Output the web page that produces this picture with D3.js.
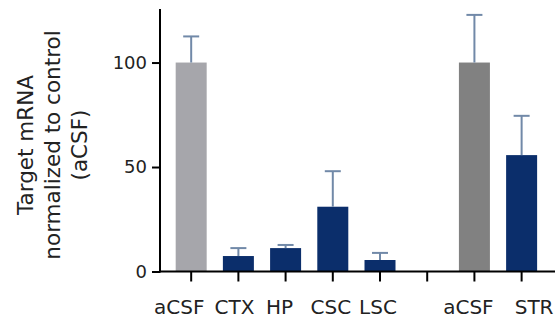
<!DOCTYPE html>
<html><head><meta charset="utf-8">
<script src="https://cdn.jsdelivr.net/npm/d3@7"></script>
<style>body{margin:0;background:#fff}svg{display:block}text{font-family:"DejaVu Sans",Verdana,sans-serif}</style>
</head><body><svg id="c" width="555" height="320"></svg>
<script>
const categories = ["aCSF","CTX","HP","CSC","LSC","","aCSF","STR"];
const means      = [100, 7.4, 11.2, 31, 5.5, null, 100, 55.7];
const errUpper   = [112.5, 11.2, 12.7, 48, 8.9, null, 122.8, 74.5];
const barGroups  = ["ctrl1","treat","treat","treat","treat",null,"ctrl2","treat"];
const yTicks = [0, 50, 100];
const yTitle = ["Target mRNA","normalized to control","(aCSF)"];

// layout / style
const colors = {ctrl1:"#a6a6ab", ctrl2:"#818181", treat:"#0b2e6b"};
const labelNudge = [-12, -4, -6, -2, -2, 0, -6, 12.5];
const svg = d3.select("#c");
const idx = categories.map((d,i)=>i);
const x = d3.scalePoint().domain(idx).range([160, 551.8]).padding(0.65);
const y = d3.scaleLinear().domain([0,125]).range([271.5, 10.3]);
const bw = 31;

// bars
const data = idx.filter(i=>means[i]!=null);
svg.append("g").selectAll("rect").data(data).join("rect")
  .attr("x", i=>x(i)-bw/2+0.5).attr("width", bw)
  .attr("y", i=>y(means[i])).attr("height", i=>y(0)-y(means[i]))
  .attr("fill", i=>colors[barGroups[i]]);

// error bars
const eg = svg.append("g").attr("stroke","#7189a8").attr("stroke-width",2);
eg.selectAll("line.v").data(data).join("line").attr("class","v")
  .attr("x1", i=>x(i)+0.5).attr("x2", i=>x(i)+0.5)
  .attr("y1", i=>y(means[i])).attr("y2", i=>y(errUpper[i]));
eg.selectAll("line.c").data(data).join("line").attr("class","c")
  .attr("x1", i=>x(i)-7.5).attr("x2", i=>x(i)+8.5)
  .attr("y1", i=>y(errUpper[i])).attr("y2", i=>y(errUpper[i]));

// y axis
const ya = svg.append("g").attr("transform","translate(160,0)")
  .call(d3.axisLeft(y).tickValues(yTicks).tickSize(8).tickPadding(5));
ya.select(".domain").remove();
ya.selectAll(".tick line").attr("stroke","#000").attr("stroke-width",2);
ya.selectAll(".tick text").attr("font-size",18).attr("fill","#222");
svg.append("line").attr("x1",160).attr("x2",160).attr("y1",9).attr("y2",272.5)
  .attr("stroke","#000").attr("stroke-width",2);

// x axis
const xa = svg.append("g").attr("transform","translate(0,271.5)")
  .call(d3.axisBottom(x).tickSize(10).tickPadding(18).tickFormat(i=>categories[i]));
xa.select(".domain").remove();
xa.selectAll(".tick line").attr("stroke","#000").attr("stroke-width",2);
xa.selectAll(".tick text").attr("font-size",20).attr("fill","#222")
  .attr("dx", i=>labelNudge[i]);
svg.append("line").attr("x1",159).attr("x2",555).attr("y1",271.5).attr("y2",271.5)
  .attr("stroke","#000").attr("stroke-width",2);

// y title
const t = svg.append("text").attr("transform","translate(0,145) rotate(-90)")
  .attr("text-anchor","middle").attr("font-size",21.5).attr("fill","#222");
yTitle.forEach((s,k)=>t.append("tspan").attr("x",0).attr("y",33+k*27).text(s));
</script></body></html>
